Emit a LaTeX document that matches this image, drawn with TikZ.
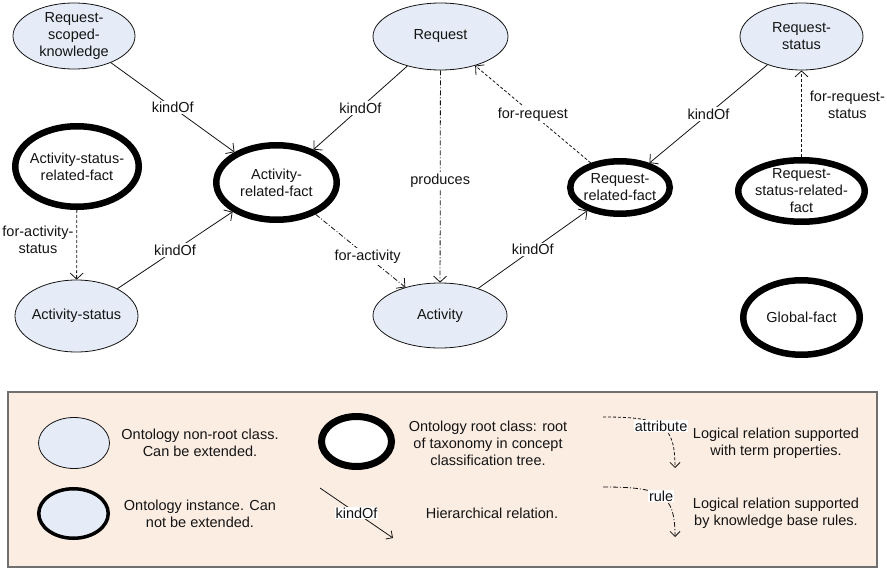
\documentclass[tikz,border=0pt]{standalone}
\usepackage{fontspec}
\setmainfont{Liberation Sans}
\usetikzlibrary{shapes.geometric,arrows.meta}
\definecolor{classfill}{HTML}{E6ECF7}
\definecolor{legendfill}{HTML}{FCEDE3}
\definecolor{legendline}{HTML}{707070}
\definecolor{ink}{HTML}{141414}
\begin{document}
\begin{tikzpicture}[x=1pt,y=-1pt,
  every node/.style={font=\fontsize{14.5}{17}\selectfont, text=ink},
  cls/.style={ellipse, draw=ink, line width=0.8pt, fill=classfill, inner sep=0pt},
  rootcls/.style={ellipse, draw=black, line width=6.5pt, fill=white, inner sep=0pt},
  inst/.style={ellipse, draw=black, line width=3.5pt, fill=classfill, inner sep=0pt},
  txt/.style={align=center, inner sep=0pt},
  lbl/.style={fill=white, inner sep=1.5pt, align=center},
  kindrel/.style={draw=ink, line width=0.8pt, -{Straight Barb[length=6pt,width=13pt]}},
  attrrel/.style={kindrel, dash pattern=on 3pt off 2pt},
  rulerel/.style={kindrel, dash pattern=on 5pt off 2pt on 1pt off 2pt},
  smallkind/.style={draw=ink, line width=0.8pt, -{Straight Barb[length=5pt,width=10pt]}},
  smallattr/.style={smallkind, dash pattern=on 3pt off 2pt},
  smallrule/.style={smallkind, dash pattern=on 5pt off 2pt on 1pt off 2pt}]
\useasboundingbox (0,0) rectangle (887,570);

% ---- classes ----
\node[cls, minimum width=122, minimum height=66] (rsk) at (74,36) {};
\node[txt] (rsk-t) at (rsk) {Request-\\scoped-\\knowledge};
\node[cls, minimum width=135, minimum height=67] (req) at (440.5,36.5) {};
\node[txt] (req-t) at (req) {Request};
\node[cls, minimum width=123, minimum height=67] (rst) at (801.5,36.5) {};
\node[txt] (rst-t) at (rst) {Request-\\status};
\node[cls, minimum width=123, minimum height=72] (ast) at (76.5,316) {};
\node[txt] (ast-t) at (ast) {Activity-status};
\node[cls, minimum width=134, minimum height=65] (act) at (440,315.5) {};
\node[txt] (act-t) at (act) {Activity};

% ---- root classes ----
\node[rootcls, minimum width=123.5, minimum height=80.5] (asrf) at (77,166.5) {};
\node[txt] (asrf-t) at (asrf) {Activity-status-\\related-fact};
\node[rootcls, minimum width=120.5, minimum height=74.5] (arf) at (276.5,182.5) {};
\node[txt] (arf-t) at (arf) {Activity-\\related-fact};
\node[rootcls, minimum width=99.5, minimum height=52.5] (rrf) at (620,187.5) {};
\node[txt] (rrf-t) at (rrf) {Request-\\related-fact};
\node[rootcls, minimum width=126.5, minimum height=61.5] (rsrf) at (801.5,191) {};
\node[txt] (rsrf-t) at (rsrf) {Request-\\status-related-\\fact};
\node[rootcls, minimum width=116.5, minimum height=74.5] (gf) at (801.5,317.5) {};
\node[txt] (gf-t) at (gf) {Global-fact};

% ---- relations ----
\draw[kindrel] (rsk) -- node[lbl, pos=0.5] {kindOf} (arf);
\draw[kindrel] (req) -- node[lbl, pos=0.5] {kindOf} (arf);
\draw[kindrel] (ast) -- node[lbl, pos=0.5] {kindOf} (arf);
\draw[kindrel] (act) -- node[lbl, pos=0.5] {kindOf} (rrf);
\draw[kindrel] (rst) -- node[lbl, pos=0.5] {kindOf} (rrf);
\draw[rulerel] (req) -- node[lbl, pos=0.52] {produces} (act);
\draw[rulerel] (arf) -- node[lbl, pos=0.58] {for-activity} (act);
\draw[attrrel] (rrf) -- node[lbl, pos=0.5] {for-request} (req);
\draw[attrrel] (rsrf) -- node[txt, pos=0.6, anchor=west, xshift=8pt] {for-request-\\status} (rst);
\draw[attrrel] (asrf) -- node[txt, pos=0.43, anchor=east, xshift=-3pt] {for-activity-\\status} (ast);

% ---- legend ----
\draw[legendline, line width=1.2pt, fill=legendfill] (8,392) rectangle (877,567);

\node[cls, minimum width=71, minimum height=51] (lg-cls) at (74,443) {};
\node[txt] (lg-cls-t) at (200,443) {Ontology non-root class.\\Can be extended.};
\node[inst, minimum width=69.5, minimum height=49.5] (lg-inst) at (73.5,513.5) {};
\node[txt] (lg-inst-t) at (200,513.5) {Ontology instance. Can\\not be extended.};
\node[rootcls, line width=7pt, minimum width=70, minimum height=50] (lg-root) at (356.5,441.5) {};
\node[txt] (lg-root-t) at (488,443) {Ontology root class: root\\of taxonomy in concept\\classification tree.};

\coordinate (lk-a) at (320,488);
\coordinate (lk-b) at (393,538);
\draw[smallkind] (lk-a) -- node[lbl, inner sep=1pt] {kindOf} (lk-b);
\node[txt] (lk-t) at (492,513) {Hierarchical relation.};

\coordinate (la-a) at (603,417);
\coordinate (la-b) at (675,468);
\draw[smallattr] (la-a) .. controls (662,417) and (675,424) .. node[lbl, inner sep=1pt, pos=0.5] {attribute} (la-b);
\node[txt] (la-t) at (776,443) {Logical relation supported\\with term properties.};

\coordinate (lr-a) at (603,487);
\coordinate (lr-b) at (675,537);
\draw[smallrule] (lr-a) .. controls (662,487) and (675,494) .. node[lbl, inner sep=1pt, pos=0.5] {rule} (lr-b);
\node[txt] (lr-t) at (776,513) {Logical relation supported\\by knowledge base rules.};
\end{tikzpicture}
\end{document}
